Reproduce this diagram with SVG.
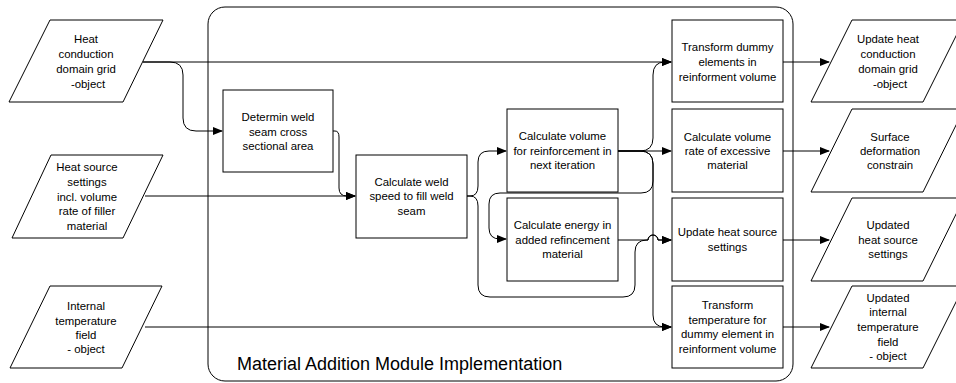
<svg xmlns="http://www.w3.org/2000/svg" width="956" height="383" viewBox="0 0 956 383">
<defs>
<marker id="arr" markerUnits="userSpaceOnUse" markerWidth="10" markerHeight="8" refX="9" refY="4" orient="auto">
<path d="M0,0 L10,4 L0,8 z" fill="#000"/>
</marker>
<style>
.sh{fill:#fff;stroke:#000;stroke-width:1}
.t{font-family:"Liberation Sans",Arial,sans-serif;font-size:11.4px;fill:#000;text-anchor:middle}
.c{fill:none;stroke:#000;stroke-width:1}
.ca{fill:none;stroke:#000;stroke-width:1;marker-end:url(#arr)}
</style>
</defs>
<rect width="956" height="383" fill="#fff"/>
<g id="module">
<rect x="208" y="7" width="585" height="374" rx="17" fill="none" stroke="#000" stroke-width="1"/>
<text x="237" y="370" style="font-family:'Liberation Sans',Arial,sans-serif;font-size:18px;fill:#000">Material Addition Module Implementation</text>
</g>
<g id="connectors">
<path class="ca" d="M143,62 H671"/>
<path class="ca" d="M143,62 H170 Q183,62 183,75 V118 Q183,131 196,131 H222"/>
<path class="ca" d="M145,196 H355"/>
<path class="ca" d="M333,131 H335 Q339,131 339,137 V188 Q339,196 347,196 H355"/>
<path class="ca" d="M467,196 H470 Q478,196 478,186 V162 Q478,151 489,151 H506"/>
<path class="ca" d="M467,196 H470 Q478,196 478,206 V285 Q478,297 490,297 H623 Q635,297 635,285 V252 Q635,240 647,240 H648 A5,5 0 0 1 658,240 H671"/>
<path class="ca" d="M618,240 H648 A5,5 0 0 1 658,240 H671"/>
<path class="ca" d="M618,151 H640 Q653,151 653,138 V75 Q653,62 665,62 H671"/>
<path class="ca" d="M618,151 H671"/>
<path class="ca" d="M618,151 H640 Q653,151 653,164 V181 Q653,193 641,193 H500 Q489,193 489,204 V228 Q489,239 500,239 H506"/>
<path class="ca" d="M618,151 H640 Q653,151 653,164 V315 Q653,327 665,327 H671"/>
<path class="ca" d="M145,327 H671"/>
<path class="ca" d="M783,62 H829"/>
<path class="ca" d="M783,151 H829"/>
<path class="ca" d="M783,240 H829"/>
<path class="ca" d="M783,327 H829"/>
</g>
<g id="in1">
<polygon class="sh" points="50,20 163,20 123,102 9,102"/>
<text class="t"><tspan x="86" y="43">Heat</tspan><tspan x="86" y="58">conduction</tspan><tspan x="86" y="73">domain grid</tspan><tspan x="88" y="88">-object</tspan></text>
</g>
<g id="in2">
<polygon class="sh" points="51,155 163,155 123,238 12,238"/>
<text class="t"><tspan x="87" y="171">Heat source</tspan><tspan x="87" y="186">settings</tspan><tspan x="87" y="200.5">incl. volume</tspan><tspan x="87" y="215">rate of filler</tspan><tspan x="87" y="230">material</tspan></text>
</g>
<g id="in3">
<polygon class="sh" points="50,286 162,286 122,368 10,368"/>
<text class="t"><tspan x="86" y="310">Internal</tspan><tspan x="86" y="324.5">temperature</tspan><tspan x="86" y="339">field</tspan><tspan x="86" y="353">- object</tspan></text>
</g>
<g id="determin">
<rect class="sh" x="223" y="90" width="110" height="82"/>
<text class="t"><tspan x="278" y="121">Determin weld</tspan><tspan x="278" y="135.5">seam cross</tspan><tspan x="278" y="150">sectional area</tspan></text>
</g>
<g id="calcweld">
<rect class="sh" x="356" y="155" width="111" height="83"/>
<text class="t"><tspan x="411.5" y="186">Calculate weld</tspan><tspan x="411.5" y="200">speed to fill weld</tspan><tspan x="411.5" y="215">seam</tspan></text>
</g>
<g id="calcvol">
<rect class="sh" x="507" y="109" width="111" height="83"/>
<text class="t"><tspan x="562.5" y="140">Calculate volume</tspan><tspan x="562.5" y="155">for reinforcement in</tspan><tspan x="562.5" y="169">next iteration</tspan></text>
</g>
<g id="calcenergy">
<rect class="sh" x="507" y="198" width="111" height="83"/>
<text class="t"><tspan x="562.5" y="229">Calculate energy in</tspan><tspan x="562.5" y="244">added refincement</tspan><tspan x="562.5" y="258">material</tspan></text>
</g>
<g id="transdummy">
<rect class="sh" x="672" y="20" width="111" height="82"/>
<text class="t"><tspan x="727.5" y="51">Transform dummy</tspan><tspan x="727.5" y="66">elements in</tspan><tspan x="727.5" y="80.5">reinforment volume</tspan></text>
</g>
<g id="calcrate">
<rect class="sh" x="672" y="109" width="111" height="83"/>
<text class="t"><tspan x="727.5" y="141">Calculate volume</tspan><tspan x="727.5" y="155">rate of excessive</tspan><tspan x="727.5" y="169">material</tspan></text>
</g>
<g id="updheat">
<rect class="sh" x="672" y="198" width="111" height="83"/>
<text class="t"><tspan x="727.5" y="236">Update heat source</tspan><tspan x="727.5" y="251">settings</tspan></text>
</g>
<g id="transtemp">
<rect class="sh" x="672" y="286" width="111" height="82"/>
<text class="t"><tspan x="727.5" y="309">Transform</tspan><tspan x="727.5" y="323.5">temperature for</tspan><tspan x="727.5" y="338">dummy element in</tspan><tspan x="727.5" y="353">reinforment volume</tspan></text>
</g>
<g id="out1">
<polygon class="sh" points="852,20 964,20 923,102 811,102"/>
<text class="t"><tspan x="888" y="43">Update heat</tspan><tspan x="888" y="58">conduction</tspan><tspan x="888" y="73">domain grid</tspan><tspan x="890" y="88">-object</tspan></text>
</g>
<g id="out2">
<polygon class="sh" points="852,109 964,109 923,192 811,192"/>
<text class="t"><tspan x="890" y="141">Surface</tspan><tspan x="890" y="155">deformation</tspan><tspan x="890" y="169">constrain</tspan></text>
</g>
<g id="out3">
<polygon class="sh" points="852,198 964,198 923,281 811,281"/>
<text class="t"><tspan x="888" y="229">Updated</tspan><tspan x="888" y="244">heat source</tspan><tspan x="888" y="258">settings</tspan></text>
</g>
<g id="out4">
<polygon class="sh" points="852,286 964,286 923,368 811,368"/>
<text class="t"><tspan x="888" y="302">Updated</tspan><tspan x="888" y="316">internal</tspan><tspan x="888" y="331">temperature</tspan><tspan x="888" y="346">field</tspan><tspan x="888" y="360">- object</tspan></text>
</g>
</svg>
